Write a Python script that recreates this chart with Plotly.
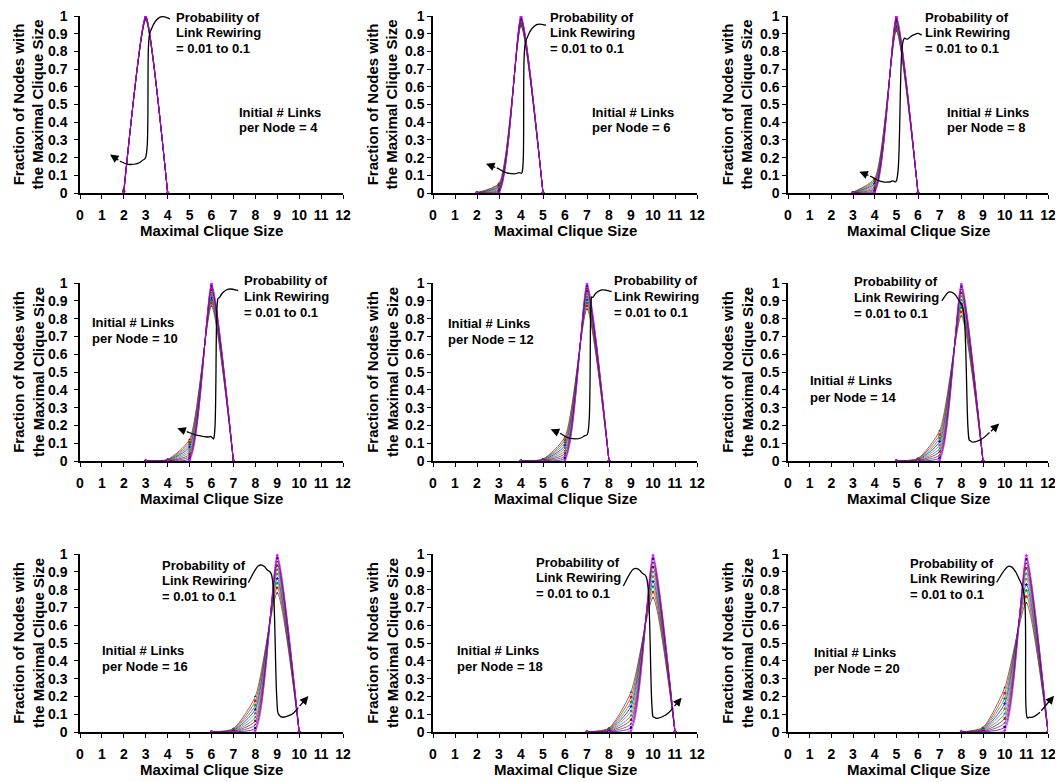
import plotly.graph_objects as go

# ---------------- data ----------------
rewiring_p = [0.01, 0.02, 0.03, 0.04, 0.05, 0.06, 0.07, 0.08, 0.09, 0.10]
links_per_node = [4, 6, 8, 10, 12, 14, 16, 18, 20]
x_tick_vals = list(range(0, 13))
y_tick_vals = [0, 0.1, 0.2, 0.3, 0.4, 0.5, 0.6, 0.7, 0.8, 0.9, 1.0]
y_tick_text = ["0", "0.1", "0.2", "0.3", "0.4", "0.5", "0.6", "0.7", "0.8", "0.9", "1"]

size_L4 = [2, 3, 4]
frac_L4 = [[0.0, 1.0, 0], [0.002, 0.998, 0], [0.004, 0.995, 0], [0.006, 0.993, 0], [0.008, 0.99, 0],
           [0.01, 0.988, 0], [0.012, 0.986, 0], [0.014, 0.984, 0], [0.017, 0.981, 0], [0.02, 0.978, 0]]

size_L6 = [2, 3, 4, 5]
frac_L6 = [[0, 0.002, 0.998, 0], [0, 0.006, 0.994, 0], [0, 0.012, 0.988, 0], [0, 0.018, 0.981, 0],
           [0, 0.025, 0.974, 0], [0.001, 0.031, 0.968, 0], [0.001, 0.037, 0.961, 0],
           [0.001, 0.043, 0.955, 0], [0.002, 0.049, 0.949, 0], [0.002, 0.055, 0.942, 0]]

size_L8 = [3, 4, 5, 6]
frac_L8 = [[0, 0.003, 0.997, 0], [0, 0.01, 0.99, 0], [0, 0.018, 0.982, 0], [0.001, 0.027, 0.972, 0],
           [0.001, 0.036, 0.963, 0], [0.002, 0.045, 0.953, 0], [0.002, 0.054, 0.944, 0],
           [0.003, 0.063, 0.934, 0], [0.004, 0.072, 0.924, 0], [0.005, 0.081, 0.914, 0]]

size_L10 = [3, 4, 5, 6, 7]
frac_L10 = [[0, 0, 0.004, 0.996, 0], [0, 0, 0.014, 0.986, 0], [0, 0.001, 0.026, 0.973, 0],
            [0, 0.001, 0.038, 0.961, 0], [0, 0.002, 0.052, 0.946, 0], [0, 0.003, 0.065, 0.932, 0],
            [0, 0.004, 0.079, 0.917, 0], [0, 0.005, 0.093, 0.902, 0], [0, 0.007, 0.107, 0.886, 0],
            [0, 0.009, 0.121, 0.870, 0]]

size_L12 = [4, 5, 6, 7, 8]
frac_L12 = [[0, 0, 0.005, 0.995, 0], [0, 0, 0.016, 0.984, 0], [0, 0.001, 0.029, 0.970, 0],
            [0, 0.002, 0.043, 0.955, 0], [0, 0.003, 0.058, 0.939, 0], [0, 0.004, 0.073, 0.923, 0],
            [0, 0.005, 0.088, 0.907, 0], [0, 0.007, 0.104, 0.889, 0], [0, 0.009, 0.119, 0.872, 0],
            [0, 0.011, 0.135, 0.854, 0]]

size_L14 = [5, 6, 7, 8, 9]
frac_L14 = [[0, 0, 0.006, 0.994, 0], [0, 0, 0.019, 0.981, 0], [0, 0.001, 0.035, 0.964, 0],
            [0, 0.002, 0.053, 0.945, 0], [0, 0.003, 0.071, 0.926, 0], [0, 0.005, 0.09, 0.905, 0],
            [0, 0.007, 0.109, 0.884, 0], [0, 0.009, 0.129, 0.862, 0], [0, 0.012, 0.149, 0.839, 0],
            [0, 0.015, 0.17, 0.815, 0]]

size_L16 = [6, 7, 8, 9, 10]
frac_L16 = [[0, 0, 0.007, 0.993, 0], [0, 0.001, 0.022, 0.977, 0], [0, 0.002, 0.041, 0.957, 0],
            [0, 0.003, 0.062, 0.935, 0], [0, 0.005, 0.083, 0.912, 0], [0, 0.007, 0.105, 0.888, 0],
            [0, 0.009, 0.128, 0.863, 0], [0, 0.012, 0.151, 0.837, 0], [0, 0.015, 0.175, 0.810, 0],
            [0, 0.019, 0.2, 0.781, 0]]

size_L18 = [7, 8, 9, 10, 11]
frac_L18 = [[0, 0, 0.008, 0.992, 0], [0, 0.001, 0.025, 0.974, 0], [0, 0.002, 0.046, 0.952, 0],
            [0, 0.004, 0.069, 0.927, 0], [0, 0.006, 0.093, 0.901, 0], [0, 0.008, 0.118, 0.874, 0],
            [0, 0.011, 0.143, 0.846, 0], [0, 0.014, 0.169, 0.817, 0], [0, 0.018, 0.196, 0.786, 0],
            [0, 0.022, 0.224, 0.754, 0]]

size_L20 = [8, 9, 10, 11, 12]
frac_L20 = [[0, 0, 0.009, 0.991, 0], [0, 0.001, 0.028, 0.971, 0], [0, 0.002, 0.051, 0.947, 0],
            [0, 0.004, 0.076, 0.92, 0], [0, 0.007, 0.103, 0.89, 0], [0, 0.01, 0.131, 0.859, 0],
            [0, 0.013, 0.159, 0.828, 0], [0, 0.017, 0.188, 0.795, 0], [0, 0.021, 0.218, 0.761, 0],
            [0, 0.026, 0.249, 0.725, 0]]

panel_sizes = [size_L4, size_L6, size_L8, size_L10, size_L12, size_L14, size_L16, size_L18, size_L20]
panel_fracs = [frac_L4, frac_L6, frac_L8, frac_L10, frac_L12, frac_L14, frac_L16, frac_L18, frac_L20]

prob_text_lines = ["Probability of", "Link Rewiring", "= 0.01 to 0.1"]
init_text_lines = ["Initial # Links", "per Node = %d"]

# ---------------- styling / layout ----------------
W, H = 1063, 782
OFF = 8  # page body margin offset
FONT = "Liberation Sans, Arial, sans-serif"
series_colors = ['#FF00FF', '#000080', '#800080', '#800000', '#008080',
                 '#996633', '#0000FF', '#009900', '#FF0000', '#333333']
series_symbols = ['diamond', 'square', 'triangle-up', 'x', 'star', 'circle',
                  'cross', 'diamond', 'square', 'triangle-up']

col_px = [(80, 343), (433, 697), (788, 1048)]
row_px = [(16, 193), (283, 461), (554, 732)]
ytitle_x_px = [28, 382, 737]
ytick_standoff = [4, 0, 0]

# text placement (screen pixels: left x, centre y of first line)
prob_text_px = [(174, 17), (548, 17), (923, 17), (242, 281), (612, 281),
                (852, 282), (160, 565), (534, 562), (908, 563)]
init_text_px = [(237, 112), (590, 112), (945, 112), (90, 322), (446, 323),
                (808, 381), (100, 650), (455, 650), (812, 652)]
prob_line_gap = 15.8
init_line_gap = 16.0

# curved arrow guide points (data coords of each panel), last point = arrow tip
arrow_paths = [
    [(4.11, 0.985), (3.65, 0.994), (3.27, 0.929), (3.12, 0.816), (3.07, 0.274), (2.81, 0.180), (2.28, 0.161), (1.82, 0.180), (1.37, 0.217)],
    [(5.14, 0.948), (4.71, 0.951), (4.33, 0.892), (4.14, 0.760), (4.10, 0.180), (3.88, 0.114), (3.35, 0.114), (2.90, 0.142), (2.41, 0.165)],
    [(6.17, 0.892), (5.94, 0.901), (5.55, 0.872), (5.25, 0.798), (5.09, 0.142), (4.79, 0.067), (4.25, 0.067), (3.78, 0.096), (3.29, 0.120)],
    [(7.22, 0.957), (6.77, 0.965), (6.39, 0.923), (6.24, 0.830), (6.16, 0.193), (5.93, 0.137), (5.32, 0.146), (4.87, 0.165), (4.44, 0.184)],
    [(8.12, 0.951), (7.67, 0.961), (7.29, 0.923), (7.17, 0.848), (7.10, 0.230), (6.83, 0.137), (6.23, 0.127), (5.77, 0.156), (5.35, 0.178)],
    [(7.10, 0.90), (7.45, 0.95), (7.85, 0.91), (8.15, 0.78), (8.30, 0.20), (8.45, 0.11), (8.90, 0.12), (9.30, 0.16), (9.75, 0.21)],
    [(7.68, 0.839), (8.13, 0.933), (8.52, 0.914), (8.82, 0.811), (8.97, 0.212), (9.12, 0.090), (9.66, 0.099), (9.96, 0.137), (10.42, 0.202)],
    [(8.65, 0.820), (9.10, 0.914), (9.49, 0.895), (9.79, 0.792), (9.94, 0.174), (10.09, 0.080), (10.62, 0.099), (10.92, 0.137), (11.30, 0.193)],
    [(9.63, 0.841), (10.17, 0.931), (10.63, 0.869), (10.94, 0.710), (10.98, 0.148), (11.17, 0.083), (11.63, 0.111), (12.28, 0.204)],
]

fig = go.Figure()
layout = dict(width=W, height=H, autosize=False, margin=dict(l=0, r=0, t=0, b=0, pad=0),
              paper_bgcolor='white', plot_bgcolor='white', showlegend=False,
              font=dict(family=FONT, color='black'))
annotations = []
shapes = []


def px_x(x):  # screen px -> paper x
    return (x - OFF) / W


def px_y(y):  # screen px -> paper y
    return 1 - (y - OFF) / H


def to_px(panel, x, y):
    r, c = divmod(panel, 3)
    x0, x1 = col_px[c]
    ytop, ybot = row_px[r]
    return x0 + (x1 - x0) * x / 12.0, ybot - (ybot - ytop) * y


def text_ann(x, y, txt, size=13, anchor='left'):
    return dict(xref='paper', yref='paper', x=px_x(x), y=px_y(y), xanchor=anchor, yanchor='middle',
                text='<b>%s</b>' % txt, showarrow=False, font=dict(family=FONT, size=size, color='black'))


for i in range(9):
    r, c = divmod(i, 3)
    sfx = '' if i == 0 else str(i + 1)
    xa, ya = 'x' + sfx, 'y' + sfx
    x0, x1 = col_px[c]
    ytop, ybot = row_px[r]
    xs = panel_sizes[i]
    # draw p=0.1 first so p=0.01 (magenta) is on top
    for j in reversed(range(len(rewiring_p))):
        fig.add_trace(go.Scatter(
            x=xs, y=panel_fracs[i][j], xaxis=xa, yaxis=ya, mode='lines+markers',
            line=dict(color=series_colors[j], width=0.7, shape='spline', smoothing=0.6),
            marker=dict(size=2.5, color=series_colors[j], symbol=series_symbols[j]),
            name='p = %.2f' % rewiring_p[j], cliponaxis=True))
    axis_common = dict(showline=True, linecolor='black', linewidth=1.5, ticks='outside',
                       ticklen=4, tickwidth=1.2, tickcolor='black', showgrid=False, zeroline=False,
                       automargin=False, ticklabeloverflow='allow',
                       tickfont=dict(family=FONT, size=14, color='black', weight='bold'))
    layout['xaxis' + sfx] = dict(axis_common, domain=[px_x(x0), px_x(x1)], range=[0, 12],
                                 tickvals=x_tick_vals, anchor=ya, ticklabelstandoff=4)
    layout['yaxis' + sfx] = dict(axis_common, domain=[px_y(ybot), px_y(ytop)], range=[0, 1],
                                 tickvals=y_tick_vals, ticktext=y_tick_text, anchor=xa,
                                 ticklabelstandoff=ytick_standoff[c])
    # axis titles
    annotations.append(text_ann((x0 + x1) / 2, ybot + 37, 'Maximal Clique Size', size=15, anchor='center'))
    annotations.append(dict(xref='paper', yref='paper', x=px_x(ytitle_x_px[c]), y=px_y((ytop + ybot) / 2),
                            text='<b>Fraction of Nodes with<br>the Maximal Clique Size</b>',
                            showarrow=False, textangle=-90, xanchor='center', yanchor='middle',
                            font=dict(family=FONT, size=15, color='black')))
    # panel texts
    tx, ty = prob_text_px[i]
    for k, line in enumerate(prob_text_lines):
        annotations.append(text_ann(tx, ty + k * prob_line_gap, line))
    tx, ty = init_text_px[i]
    annotations.append(text_ann(tx, ty, init_text_lines[0]))
    annotations.append(text_ann(tx, ty + init_line_gap, init_text_lines[1] % links_per_node[i]))
    # curved arrow (smooth path through guide points) + arrow head
    pts = [to_px(i, x, y) for x, y in arrow_paths[i]]
    body = pts[:-1]
    n = len(body)
    d = 'M %.5f,%.5f' % (px_x(body[0][0]), px_y(body[0][1]))
    for k in range(n - 1):
        p0 = body[k - 1] if k > 0 else body[k]
        p1 = body[k]
        p2 = body[k + 1]
        p3 = body[k + 2] if k + 2 < n else pts[-1]
        c1 = (p1[0] + (p2[0] - p0[0]) / 6.0, p1[1] + (p2[1] - p0[1]) / 6.0)
        c2 = (p2[0] - (p3[0] - p1[0]) / 6.0, p2[1] - (p3[1] - p1[1]) / 6.0)
        d += ' C %.5f,%.5f %.5f,%.5f %.5f,%.5f' % (px_x(c1[0]), px_y(c1[1]), px_x(c2[0]), px_y(c2[1]),
                                                    px_x(p2[0]), px_y(p2[1]))
    shapes.append(dict(type='path', xref='paper', yref='paper', path=d,
                       line=dict(color='black', width=1.3)))
    tip = pts[-1]
    tail = pts[-2]
    annotations.append(dict(xref='paper', yref='paper', x=px_x(tip[0]), y=px_y(tip[1]),
                            ax=tail[0] - tip[0], ay=tail[1] - tip[1], axref='pixel', ayref='pixel',
                            text='', showarrow=True, arrowhead=2, arrowsize=1.3, arrowwidth=1.3,
                            arrowcolor='black', standoff=0, startstandoff=0))

layout['annotations'] = annotations
layout['shapes'] = shapes
fig.update_layout(**layout)
fig.write_html("out.html")
